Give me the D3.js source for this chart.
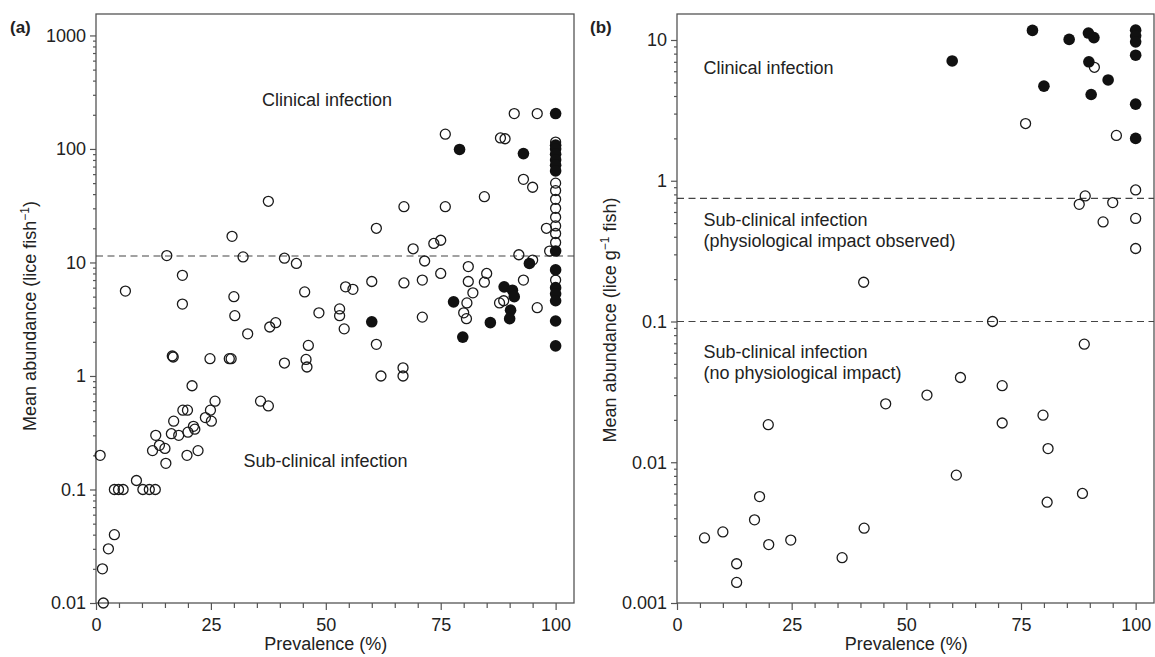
<!DOCTYPE html>
<html>
<head>
<meta charset="utf-8">
<script src="https://cdn.jsdelivr.net/npm/d3@7"></script>
<style>
  body { margin: 0; background: #fff; }
  text { font-family: "Liberation Sans", Arial, Helvetica, sans-serif; fill: #222; }
</style>
</head>
<body>
<div id="chart-area"></div>
<script>
// Panel (a): prevalence (%) vs mean abundance (lice fish-1)
// [prevalence, abundance]
const openA = [
  [0.9, 0.2], [1.6, 0.01], [1.4, 0.02], [2.7, 0.03], [4.0, 0.04],
  [4.0, 0.1], [4.9, 0.1], [5.9, 0.1], [10.2, 0.1], [11.6, 0.1], [12.9, 0.1],
  [8.8, 0.12], [12.3, 0.22], [13.0, 0.3], [13.8, 0.245], [15.0, 0.23], [15.2, 0.17],
  [16.4, 0.31], [16.9, 0.4], [18.0, 0.3], [18.9, 0.5], [19.9, 0.5], [20.0, 0.32], [19.8, 0.2],
  [21.2, 0.36], [21.5, 0.34], [22.2, 0.22], [23.8, 0.43], [24.9, 0.5], [25.1, 0.4], [25.9, 0.6],
  [20.9, 0.82], [16.6, 1.5], [16.8, 1.47], [24.8, 1.42], [29.0, 1.42], [29.4, 1.42],
  [35.8, 0.6], [37.5, 0.545], [41, 1.3], [45.7, 1.4], [45.9, 1.2], [46.2, 1.86],
  [33, 2.35], [37.8, 2.7], [39.1, 2.95], [30.2, 3.4], [30, 5.0], [18.8, 4.3], [6.4, 5.6], [18.8, 7.7],
  [15.4, 11.5], [29.6, 17], [32, 11.2], [37.5, 34.6], [41, 10.9], [43.6, 9.8], [45.4, 5.5], [48.5, 3.6],
  [53, 3.9], [53, 3.4], [54, 2.6], [54.3, 6.1], [55.9, 5.8], [60, 6.8], [61, 20], [61, 1.9], [62, 1.0],
  [66.8, 1.18], [66.8, 1.0], [67, 6.6], [67, 31], [69, 13.2], [71, 7.0], [71, 3.3], [71.5, 10.3],
  [73.5, 14.7], [75, 15.7], [75, 8.0], [76, 31], [76, 135], [80, 3.6], [80.6, 3.2], [80.7, 4.4],
  [81, 9.2], [81, 6.8], [82, 5.4], [84.5, 6.7], [85, 8.0], [84.5, 38], [87.8, 4.4], [88.7, 4.6],
  [88, 125], [89, 123], [91, 205], [92, 11.7], [93, 7.0], [93, 54], [95, 46], [95, 10.5],
  [96, 205], [96, 4.0], [98, 20], [98.7, 12.6],
  [100, 115], [100, 50], [100, 43], [100, 36], [100, 30], [100, 25], [100, 21], [100, 18],
  [100, 15], [100, 7.0]
];
const filledA = [
  [60, 3.0], [77.8, 4.5], [79.1, 99], [79.8, 2.2], [85.8, 2.95], [88.8, 6.1], [90.6, 5.7],
  [91, 5.0], [90.2, 3.8], [90, 3.2], [93, 91], [94.3, 9.8],
  [100, 205], [100, 108], [100, 100], [100, 90], [100, 80], [100, 72], [100, 64],
  [100, 12.6], [100, 8.6], [100, 6.0], [100, 5.3], [100, 4.6], [100, 3.05], [100, 1.84]
];

// Panel (b): prevalence (%) vs mean abundance (lice g-1 fish)
const openB = [
  [40.7, 0.19], [76, 2.55], [91, 6.4], [95.8, 2.1], [100, 0.86], [89, 0.78], [87.7, 0.68],
  [95, 0.7], [92.9, 0.51], [100, 0.54], [100, 0.33], [68.8, 0.1],
  [19.9, 0.0185], [18, 0.0057], [16.9, 0.0039], [10, 0.0032], [6, 0.0029], [20, 0.0026],
  [24.8, 0.0028], [13, 0.0019], [13, 0.0014], [36, 0.0021], [40.8, 0.0034],
  [88.8, 0.069], [61.8, 0.04], [70.9, 0.035], [54.5, 0.03], [45.5, 0.026], [79.8, 0.0216],
  [70.9, 0.019], [80.9, 0.0125], [60.9, 0.0081], [88.4, 0.006], [80.7, 0.0052]
];
const filledB = [
  [77.5, 11.7], [85.5, 10.1], [89.7, 11.2], [90.9, 10.4], [100, 11.75], [100, 10.7],
  [100, 9.7], [100, 7.8], [60, 7.1], [89.8, 7.0], [94, 5.2], [80, 4.7], [90.3, 4.1],
  [100, 3.5], [100, 2.0]
];

const ticksX = [0, 25, 50, 75, 100];
const ticksYA = [0.01, 0.1, 1, 10, 100, 1000];
const labelsYA = ["0.01", "0.1", "1", "10", "100", "1000"];
const ticksYB = [0.001, 0.01, 0.1, 1, 10];
const labelsYB = ["0.001", "0.01", "0.1", "1", "10"];
const thresholdA = [11.4];
const thresholdB = [0.75, 0.1];

const width = 1155, height = 657;
const plotTop = 14, plotBottom = 603;
const font = "Liberation Sans, Arial, Helvetica, sans-serif";

const svg = d3.select("#chart-area")
  .append("svg")
  .attr("width", width)
  .attr("height", height);

const minorX = d3.range(5, 101, 5).filter((d) => !ticksX.includes(d));

function styleAxis(sel) {
  sel.select(".domain").remove();
  sel.attr("font-size", 18).attr("font-family", font).attr("color", "#222");
  sel.selectAll("line").attr("stroke", "#555").attr("stroke-width", 1.2);
}

function drawPanel(p) {
  const x = d3.scaleLinear().domain([0, 104]).range([p.left, p.right]);
  const y = d3.scaleLog().domain([p.yMin, p.yMax]).range([plotBottom, plotTop]);
  const g = svg.append("g");

  // minor log ticks
  const minorY = [];
  for (let e = Math.floor(Math.log10(p.yMin)); e < Math.ceil(Math.log10(p.yMax)); e++) {
    for (let k = 2; k < 10; k++) {
      const v = k * Math.pow(10, e);
      if (v > p.yMin && v < p.yMax) minorY.push(v);
    }
  }

  // X axis
  g.append("g")
    .attr("transform", "translate(0," + plotBottom + ")")
    .call(d3.axisBottom(x).tickValues(minorX).tickSize(5).tickFormat(""))
    .call(styleAxis);
  g.append("g")
    .attr("transform", "translate(0," + plotBottom + ")")
    .call(d3.axisBottom(x).tickValues(ticksX).tickSize(7).tickPadding(8))
    .call(styleAxis);

  // Y axis
  g.append("g")
    .attr("transform", "translate(" + p.left + ",0)")
    .call(d3.axisLeft(y).tickValues(minorY).tickSize(3).tickFormat(""))
    .call(styleAxis);
  g.append("g")
    .attr("transform", "translate(" + p.left + ",0)")
    .call(d3.axisLeft(y).tickValues(p.ticksY).tickSize(6).tickPadding(4)
      .tickFormat((d, i) => p.labelsY[i]))
    .call(styleAxis);

  // frame
  g.append("rect")
    .attr("x", p.left)
    .attr("y", plotTop)
    .attr("width", p.right - p.left)
    .attr("height", plotBottom - plotTop)
    .attr("fill", "none")
    .attr("stroke", "#555")
    .attr("stroke-width", 1.3);

  // thresholds
  g.selectAll(".thr")
    .data(p.thresholds)
    .join("line")
    .attr("class", "thr")
    .attr("x1", p.left)
    .attr("x2", p.right)
    .attr("y1", (d) => y(d))
    .attr("y2", (d) => y(d))
    .attr("stroke", "#444")
    .attr("stroke-width", 1.2)
    .attr("stroke-dasharray", "7,4.5");

  // points
  g.selectAll(".open")
    .data(p.open)
    .join("circle")
    .attr("class", "open")
    .attr("cx", (d) => x(d[0]))
    .attr("cy", (d) => y(d[1]))
    .attr("r", 5)
    .attr("fill", "none")
    .attr("stroke", "#1a1a1a")
    .attr("stroke-width", 1.3);

  g.selectAll(".filled")
    .data(p.filled)
    .join("circle")
    .attr("class", "filled")
    .attr("cx", (d) => x(d[0]))
    .attr("cy", (d) => y(d[1]))
    .attr("r", 5.8)
    .attr("fill", "#111");

  // panel letter
  g.append("text")
    .attr("x", p.letterX)
    .attr("y", 33)
    .attr("font-size", 17)
    .attr("font-weight", "bold")
    .text(p.letter);

  // X label
  g.append("text")
    .attr("x", x(50))
    .attr("y", 650)
    .attr("font-size", 18)
    .attr("text-anchor", "middle")
    .text("Prevalence (%)");

  // Y label
  const yl = g.append("text")
    .attr("transform", "translate(" + p.yLabelX + "," + p.yLabelY + ") rotate(-90)")
    .attr("font-size", 18)
    .attr("text-anchor", "middle");
  yl.append("tspan").text(p.yLabel[0]);
  yl.append("tspan").attr("font-size", 12).attr("dy", -7).text("\u22121");
  yl.append("tspan").attr("dy", 7).text(p.yLabel[1]);

  // region notes
  p.notes.forEach((n) => {
    g.append("text")
      .attr("x", n.x)
      .attr("y", n.y)
      .attr("font-size", 18)
      .text(n.text);
  });
}

drawPanel({
  letter: "(a)", letterX: 10,
  left: 96, right: 574, yMin: 0.01, yMax: 1545,
  ticksY: ticksYA, labelsY: labelsYA,
  thresholds: thresholdA,
  open: openA, filled: filledA,
  yLabelX: 36, yLabelY: 316,
  yLabel: ["Mean abundance (lice fish", ")"],
  notes: [
    { x: 262, y: 106, text: "Clinical infection" },
    { x: 243.5, y: 467, text: "Sub-clinical infection" }
  ]
});

drawPanel({
  letter: "(b)", letterX: 590,
  left: 677, right: 1154, yMin: 0.001, yMax: 15.3,
  ticksY: ticksYB, labelsY: labelsYB,
  thresholds: thresholdB,
  open: openB, filled: filledB,
  yLabelX: 616, yLabelY: 320,
  yLabel: ["Mean abundance (lice g", " fish)"],
  notes: [
    { x: 703.5, y: 73.5, text: "Clinical infection" },
    { x: 703.5, y: 226, text: "Sub-clinical infection" },
    { x: 703.5, y: 247, text: "(physiological impact observed)" },
    { x: 703.5, y: 358, text: "Sub-clinical infection" },
    { x: 703.5, y: 379, text: "(no physiological impact)" }
  ]
});
</script>
</body>
</html>
